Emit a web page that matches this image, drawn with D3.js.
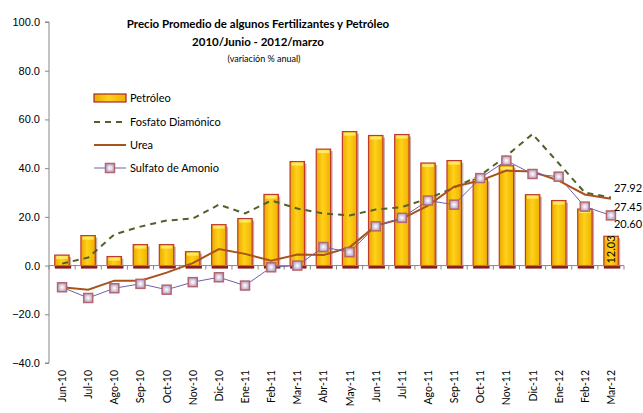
<!DOCTYPE html>
<html>
<head>
<meta charset="utf-8">
<script src="https://cdn.jsdelivr.net/npm/d3@7"></script>
<style>
  body { margin: 0; background: #fff; }
  svg { font-family: Lato, "Open Sans", sans-serif; }
</style>
</head>
<body>
<svg id="chart" width="643" height="413"></svg>
<script>
'use strict';

var months = ['Jun-10', 'Jul-10', 'Ago-10', 'Sep-10', 'Oct-10', 'Nov-10', 'Dic-10', 'Ene-11',
  'Feb-11', 'Mar-11', 'Abr-11', 'May-11', 'Jun-11', 'Jul-11', 'Ago-11', 'Sep-11', 'Oct-11',
  'Nov-11', 'Dic-11', 'Ene-12', 'Feb-12', 'Mar-12'];

var petroleo = [4.3, 12.3, 3.7, 8.6, 8.6, 5.7, 16.8, 19.3, 29.2, 42.7, 47.8, 55.0, 53.4, 53.8,
  42.1, 43.1, 35.4, 41.0, 29.1, 26.7, 23.2, 12.03];
var fosfato = [0.8, 3.3, 12.8, 16.0, 18.5, 19.3, 25.0, 21.4, 26.7, 23.4, 21.4, 20.6, 23.0, 24.0,
  27.5, 32.0, 37.0, 45.0, 54.0, 42.0, 30.0, 27.92];
var urea = [-8.9, -9.9, -6.2, -6.2, -2.9, 1.0, 6.8, 4.8, 2.0, 4.5, 4.3, 7.5, 16.4, 19.2,
  24.6, 32.4, 34.9, 39.0, 38.6, 34.9, 29.2, 27.45];
var sulfato = [-8.9, -13.3, -9.3, -7.5, -9.9, -6.8, -4.8, -8.2, -0.7, 0.0, 7.6, 5.5, 16.1, 19.6,
  26.7, 25.0, 35.9, 43.1, 37.6, 36.5, 24.2, 20.60];

var yTicks = [-40, -20, 0, 20, 40, 60, 80, 100];

var svg = d3.select('#chart');
var plotLeft = 49, plotRight = 624, plotTop = 22, plotBottom = 363;

var x = d3.scaleBand().domain(months).range([plotLeft, plotRight]).paddingInner(0.45).paddingOuter(0.22);
var xc = d3.scalePoint().domain(months).range([plotLeft, plotRight]).padding(0.5);
var y = d3.scaleLinear().domain([-40, 100]).range([plotBottom, plotTop]);

var defs = svg.append('defs');
var grad = defs.append('linearGradient').attr('id', 'barFill')
    .attr('x1', 0).attr('x2', 1).attr('y1', 0).attr('y2', 0);
grad.append('stop').attr('offset', '0%').attr('stop-color', '#e9a800');
grad.append('stop').attr('offset', '45%').attr('stop-color', '#ffd21a');
grad.append('stop').attr('offset', '100%').attr('stop-color', '#efb000');

var mgrad = defs.append('radialGradient').attr('id', 'markFill');
mgrad.append('stop').attr('offset', '0%').attr('stop-color', '#ffffff');
mgrad.append('stop').attr('offset', '100%').attr('stop-color', '#b8a8c8');

// y axis
var yAxis = svg.append('g')
    .attr('transform', 'translate(' + plotLeft + ',0)')
    .call(d3.axisLeft(y).tickValues(yTicks).tickSize(4).tickPadding(5)
      .tickFormat(function (d) { return d3.format('.1f')(d); }));
yAxis.select('.domain').attr('stroke', '#888').attr('d', 'M-4,' + plotTop + 'H0V' + plotBottom + 'H-4');
yAxis.selectAll('.tick line').attr('stroke', '#888');
yAxis.selectAll('text').style('font-size', '11px').attr('fill', '#000');

// bars
var bars = svg.append('g');
bars.selectAll('rect.shadow')
    .data(petroleo)
    .enter().append('rect')
    .attr('class', 'shadow')
    .attr('x', function (d, i) { return x(months[i]) + 2; })
    .attr('y', function (d) { return y(d) + 2; })
    .attr('width', x.bandwidth())
    .attr('height', function (d) { return y(0) - y(d); })
    .style('fill', 'rgba(130,70,70,0.45)');

bars.selectAll('rect.bar')
    .data(petroleo)
    .enter().append('rect')
    .attr('class', 'bar')
    .attr('x', function (d, i) { return x(months[i]); })
    .attr('y', function (d) { return y(d); })
    .attr('width', x.bandwidth())
    .attr('height', function (d) { return y(0) - y(d); })
    .attr('fill', 'url(#barFill)')
    .attr('stroke', '#c0392b')
    .attr('stroke-width', 1.2);

bars.selectAll('rect.hi')
    .data(petroleo)
    .enter().append('rect')
    .attr('class', 'hi')
    .attr('x', function (d, i) { return x(months[i]) + 1.5; })
    .attr('y', function (d) { return y(d) + 1; })
    .attr('width', x.bandwidth() - 3)
    .attr('height', 3)
    .attr('fill', '#fff176')
    .attr('opacity', 0.8);

bars.selectAll('rect.base')
    .data(petroleo)
    .enter().append('rect')
    .attr('class', 'base')
    .attr('x', function (d, i) { return x(months[i]); })
    .attr('y', y(0))
    .attr('width', x.bandwidth() + 2)
    .attr('height', 3)
    .attr('fill', '#8b1a1a');

// x axis
var xAxis = svg.append('g').attr('transform', 'translate(0,' + y(0) + ')');
xAxis.append('line').attr('x1', plotLeft).attr('x2', plotRight).attr('stroke', '#888');
xAxis.selectAll('line.tk')
    .data(d3.range(months.length + 1))
    .enter().append('line')
    .attr('class', 'tk')
    .attr('x1', function (i) { return plotLeft + i * (plotRight - plotLeft) / months.length; })
    .attr('x2', function (i) { return plotLeft + i * (plotRight - plotLeft) / months.length; })
    .attr('y1', 0).attr('y2', 4)
    .attr('stroke', '#888');

svg.append('g').selectAll('text')
    .data(months)
    .enter().append('text')
    .attr('transform', function (d) { return 'translate(' + (xc(d) + 4) + ',' + 370 + ') rotate(-90)'; })
    .attr('text-anchor', 'end')
    .style('font-size', '10.5px')
    .text(function (d) { return d; });

// lines
var line = d3.line()
    .x(function (d, i) { return xc(months[i]); })
    .y(function (d) { return y(d); });

svg.append('path').datum(fosfato)
    .attr('d', line)
    .attr('fill', 'none')
    .attr('stroke', '#4f6228')
    .attr('stroke-width', 2)
    .attr('stroke-dasharray', '6,5');

svg.append('path').datum(urea)
    .attr('d', line)
    .attr('fill', 'none')
    .attr('stroke', '#a9521b')
    .attr('stroke-width', 2);

svg.append('path').datum(sulfato)
    .attr('d', line)
    .attr('fill', 'none')
    .attr('stroke', '#7060a8')
    .attr('stroke-width', 1);

svg.append('g').selectAll('rect')
    .data(sulfato)
    .enter().append('rect')
    .attr('x', function (d, i) { return xc(months[i]) - 4.5; })
    .attr('y', function (d) { return y(d) - 4.5; })
    .attr('width', 9).attr('height', 9)
    .attr('fill', 'url(#markFill)')
    .attr('stroke', '#b5666e')
    .attr('stroke-width', 1.5);

// data labels at the last month
var last = months.length - 1;
var endLabels = [
  {v: fosfato[last], dy: -9},
  {v: urea[last], dy: 8},
  {v: sulfato[last], dy: 9}
];
svg.append('g').selectAll('text')
    .data(endLabels)
    .enter().append('text')
    .attr('x', xc(months[last]) + 3)
    .attr('y', function (d) { return y(d.v) + d.dy; })
    .attr('dy', '0.35em')
    .style('font-size', '11px')
    .text(function (d) { return d3.format('.2f')(d.v); });

svg.append('text')
    .attr('transform', 'translate(' + (xc(months[last]) + 4) + ',' + (y(0) - 2) + ') rotate(-90)')
    .style('font-size', '11px')
    .text(d3.format('.2f')(petroleo[last]));

// titles
svg.append('text').attr('x', 258).attr('y', 28).attr('text-anchor', 'middle')
    .style('font-size', '11.5px').style('font-weight', 'bold')
    .text('Precio Promedio de algunos Fertilizantes y Petróleo');
svg.append('text').attr('x', 258).attr('y', 46).attr('text-anchor', 'middle')
    .style('font-size', '11.5px').style('font-weight', 'bold')
    .text('2010/Junio - 2012/marzo');
svg.append('text').attr('x', 264).attr('y', 62).attr('text-anchor', 'middle')
    .style('font-size', '9px')
    .text('(variación % anual)');

// legend
var legend = svg.append('g');
var lx = 94, lw = 32;
var ly = [98, 122, 145, 168];
legend.append('rect').attr('x', lx).attr('y', ly[0] - 4).attr('width', lw).attr('height', 8)
    .attr('fill', 'url(#barFill)').attr('stroke', '#a52a2a').attr('stroke-width', 1.2);
legend.append('line').attr('x1', lx).attr('x2', lx + lw).attr('y1', ly[1]).attr('y2', ly[1])
    .attr('stroke', '#4f6228').attr('stroke-width', 2).attr('stroke-dasharray', '6,5');
legend.append('line').attr('x1', lx).attr('x2', lx + lw).attr('y1', ly[2]).attr('y2', ly[2])
    .attr('stroke', '#a9521b').attr('stroke-width', 2);
legend.append('line').attr('x1', lx).attr('x2', lx + lw).attr('y1', ly[3]).attr('y2', ly[3])
    .attr('stroke', '#7060a8').attr('stroke-width', 1);
legend.append('rect').attr('x', lx + lw / 2 - 4.5).attr('y', ly[3] - 4.5).attr('width', 9).attr('height', 9)
    .attr('fill', 'url(#markFill)').attr('stroke', '#b5666e').attr('stroke-width', 1.5);
legend.selectAll('text')
    .data(['Petróleo', 'Fosfato Diamónico', 'Urea', 'Sulfato de Amonio'])
    .enter().append('text')
    .attr('x', lx + lw + 4)
    .attr('y', function (d, i) { return ly[i]; })
    .attr('dy', '0.35em')
    .style('font-size', '11px')
    .text(function (d) { return d; });
</script>
</body>
</html>
